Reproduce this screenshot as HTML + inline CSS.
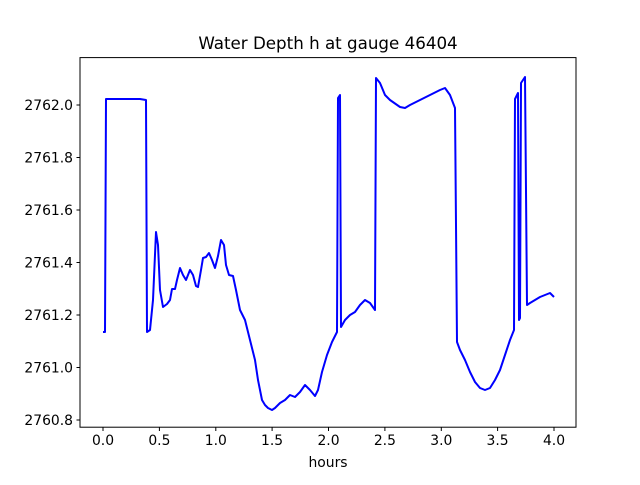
<!DOCTYPE html>
<html><head><meta charset="utf-8"><style>
html,body{margin:0;padding:0;background:#fff;}
svg text{font-family:"DejaVu Sans","Liberation Sans",sans-serif;fill:#000;}
</style></head><body>
<svg width="640" height="480" xmlns="http://www.w3.org/2000/svg">
<rect width="640" height="480" fill="#fff"/>
<text x="328" y="49" font-size="16.7" text-anchor="middle">Water Depth h at gauge 46404</text>
<g stroke="#000" stroke-width="1">
<line x1="103" y1="427.5" x2="103" y2="431"/><line x1="159.4" y1="427.5" x2="159.4" y2="431"/>
<line x1="215.8" y1="427.5" x2="215.8" y2="431"/><line x1="272.1" y1="427.5" x2="272.1" y2="431"/>
<line x1="328.5" y1="427.5" x2="328.5" y2="431"/><line x1="384.9" y1="427.5" x2="384.9" y2="431"/>
<line x1="441.3" y1="427.5" x2="441.3" y2="431"/><line x1="497.6" y1="427.5" x2="497.6" y2="431"/>
<line x1="554" y1="427.5" x2="554" y2="431"/>
<line x1="76.5" y1="105" x2="80" y2="105"/><line x1="76.5" y1="157.5" x2="80" y2="157.5"/>
<line x1="76.5" y1="210" x2="80" y2="210"/><line x1="76.5" y1="262.5" x2="80" y2="262.5"/>
<line x1="76.5" y1="315" x2="80" y2="315"/><line x1="76.5" y1="367.5" x2="80" y2="367.5"/>
<line x1="76.5" y1="420" x2="80" y2="420"/>
</g>
<g font-size="13.9" text-anchor="middle">
<text x="103" y="445">0.0</text><text x="159.4" y="445">0.5</text><text x="215.8" y="445">1.0</text>
<text x="272.1" y="445">1.5</text><text x="328.5" y="445">2.0</text><text x="384.9" y="445">2.5</text>
<text x="441.3" y="445">3.0</text><text x="497.6" y="445">3.5</text><text x="554" y="445">4.0</text>
<text x="328" y="467">hours</text>
</g>
<g font-size="13.9" text-anchor="end">
<text x="73" y="110">2762.0</text><text x="73" y="162.5">2761.8</text><text x="73" y="215">2761.6</text>
<text x="73" y="267.5">2761.4</text><text x="73" y="320">2761.2</text><text x="73" y="372.5">2761.0</text>
<text x="73" y="425">2760.8</text>
</g>
<polyline fill="none" stroke="#0000ff" stroke-width="2" stroke-linejoin="round" points="103,332 105,332 106,99 140,99 146,100 147,332 150,330 153,300 156,232 158,245 160,290 163,307 167,304 170,300 172,289 175,289 177,280 180,268 183,275 186,280 190,270 193,275 196,286 198,287 201,270 203,258 206,257 209,253 212,260 215,268 218,256 221,240 224,245 226,265 229,275 233,276 236,290 240,310 245,320 250,340 255,360 258,380 262,400 265,405 268,408 272,410 275,408 280,403 285,400 290,395 295,397 300,392 305,385 310,390 315,396 318,390 322,372 327,355 332,342 337,332 338,98 340,95 341,327 345,320 350,315 355,312 360,305 365,300 370,303 375,310 376,78 380,83 385,95 390,100 400,107 405,108 410,105 420,100 430,95 440,90 445,88 450,95 455,108 457,342 460,350 465,360 470,372 475,382 480,388 485,390 490,388 495,380 500,370 505,355 510,340 514,330 515,99 518,93 519,320 520,318 521,83 525,77 527,305 530,303 535,300 540,297 545,295 550,293 554,297"/>
<rect x="80" y="57.6" width="496" height="369.6" fill="none" stroke="#000" stroke-width="1"/>
</svg>
</body></html>
